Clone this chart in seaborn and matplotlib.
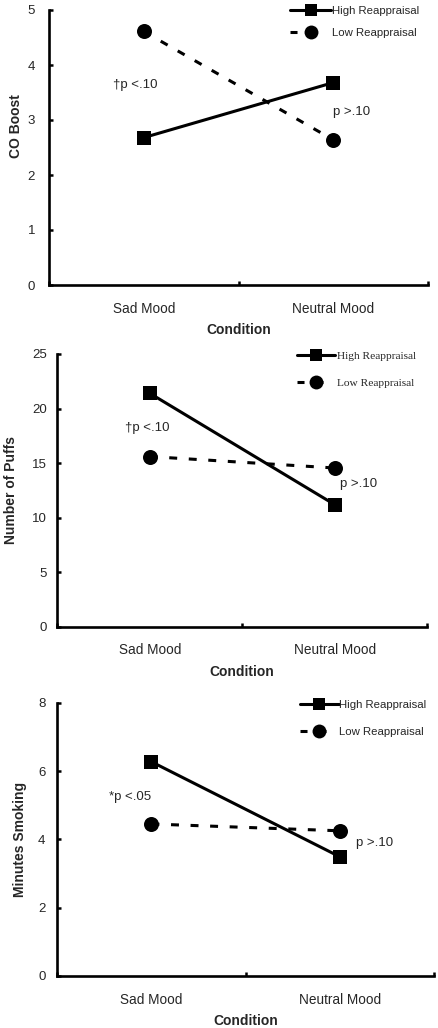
import matplotlib
matplotlib.use("Agg")
import matplotlib.pyplot as plt
from matplotlib.lines import Line2D
import seaborn as sns
import pandas as pd

# ---- data ----
conditions = ["Sad Mood", "Neutral Mood"]
groups = ["High Reappraisal", "Low Reappraisal"]

co_high = [2.68, 3.68]
co_low = [4.61, 2.64]
puffs_high = [21.4, 11.2]
puffs_low = [15.6, 14.55]
minutes_high = [6.27, 3.49]
minutes_low = [4.45, 4.25]

ylabels = ["CO Boost", "Number of Puffs", "Minutes Smoking"]
yticks_list = [[0, 1, 2, 3, 4, 5], [0, 5, 10, 15, 20, 25], [0, 2, 4, 6, 8]]
notes_left = ["\u2020p <.10", "\u2020p <.10", "*p <.05"]
notes_right = ["p >.10", "p >.10", "p >.10"]

sns.set_style("ticks")
plt.rcParams["font.family"] = ["Liberation Sans", "DejaVu Sans"]

W, H = 438, 1028
fig = plt.figure(figsize=(W / 100, H / 100), dpi=100)

def px_axes(left, right, top, bottom):
    return fig.add_axes([left / W, 1 - bottom / H, (right - left) / W, (bottom - top) / H])

panels = [
    dict(rect=(49, 428, 10, 285), high=co_high, low=co_low,
         nl=(-0.16, 3.64), nr=(1.0, 3.15), ylab=(-0.068, 0.578), ypad=10,
         leg=(290, 5.5), legfont="Liberation Sans", lspace=1.08, hlen=3.6, htp=0.05),
    dict(rect=(57.3, 427, 354, 626.7), high=puffs_high, low=puffs_low,
         nl=(-0.134, 18.2), nr=(1.028, 13.1), ylab=(-0.106, 0.5), ypad=7.5,
         leg=(297, 351), legfont="Liberation Serif", lspace=1.5, hlen=3.3, htp=0.2),
    dict(rect=(57.3, 434, 702.7, 976), high=minutes_high, low=minutes_low,
         nl=(-0.226, 5.25), nr=(1.085, 3.89), ylab=(-0.080, 0.5), ypad=8.5,
         leg=(300, 700), legfont="Liberation Sans", lspace=1.5, hlen=3.4, htp=0.05),
]

for i, p in enumerate(panels):
    ax = px_axes(*p["rect"])
    df = pd.DataFrame({
        "Condition": conditions * 2,
        "Value": list(p["high"]) + list(p["low"]),
        "Group": [groups[0]] * 2 + [groups[1]] * 2,
    })
    sns.pointplot(data=df, x="Condition", y="Value", hue="Group",
                  order=conditions, hue_order=groups,
                  palette={groups[0]: "black", groups[1]: "black"},
                  markers=["s", "o"], linestyles=["-", "--"],
                  errorbar=None, dodge=False, ax=ax,
                  markersize=10, linewidth=2.2, markeredgewidth=0)
    if ax.get_legend() is not None:
        ax.get_legend().remove()
    lines = [l for l in ax.lines if len(l.get_xdata()) == 2]
    line_high, line_low = lines[0], lines[1]
    line_low.set_dashes((2.6, 3.8))
    line_low.set_markersize(10.8)

    yt = yticks_list[i]
    ax.set_ylim(yt[0], yt[-1])
    ax.set_yticks(yt)
    ax.set_yticklabels([str(v) for v in yt])
    ax.set_xlim(-0.5, 1.5)
    ax.set_xticks([-0.5, 0.5, 1.5])
    ax.set_xticklabels(["", "", ""])
    ax.set_xticks([0, 1], labels=conditions, minor=True)
    ax.tick_params(axis="x", which="minor", length=0, pad=12, labelsize=9.8)
    ax.tick_params(axis="x", which="major", direction="in", length=3, width=1.8, color="black")
    ax.tick_params(axis="y", direction="in", length=3, width=1.8, color="black",
                   labelsize=9.5, pad=p["ypad"])

    for s in ["top", "right"]:
        ax.spines[s].set_visible(False)
    for s in ["left", "bottom"]:
        ax.spines[s].set_color("black")
        ax.spines[s].set_linewidth(1.9)

    ax.set_xlabel("Condition", fontsize=10, fontweight="bold", labelpad=5.5)
    ax.set_ylabel(ylabels[i], fontsize=10, fontweight="bold")
    ax.yaxis.set_label_coords(*p["ylab"])
    ax.grid(False)

    ax.text(p["nl"][0], p["nl"][1], notes_left[i], fontsize=9.5, va="center", ha="left")
    ax.text(p["nr"][0], p["nr"][1], notes_right[i], fontsize=9.5, va="center", ha="left")

    h_high = Line2D([], [], color="black", linestyle="-", linewidth=2.2,
                    marker="s", markersize=9, markeredgewidth=0)
    h_low = Line2D([], [], color="black", linewidth=2.2, dashes=(2.3, 3.6, 2.6, 30),
                   marker="o", markersize=10, markeredgewidth=0)
    lx, ly = p["leg"]
    ax.legend(handles=[h_high, h_low], labels=groups, loc="upper left",
              bbox_to_anchor=(lx / W, 1 - ly / H), bbox_transform=fig.transFigure,
              frameon=False, borderpad=0, borderaxespad=0, handletextpad=p["htp"],
              handlelength=p["hlen"], labelspacing=p["lspace"], numpoints=1,
              prop={"family": p["legfont"], "size": 8.2})

fig.savefig("out.png", dpi=100)
